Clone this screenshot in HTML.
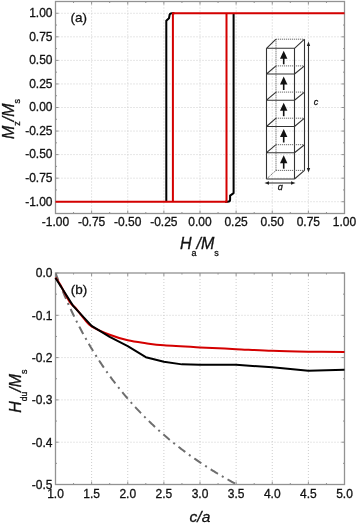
<!DOCTYPE html><html><head><meta charset="utf-8"><style>
html,body{margin:0;padding:0;background:#fff;}
body{width:357px;height:524px;overflow:hidden;}
svg{display:block;will-change:transform;}
text{font-family:"Liberation Sans", sans-serif;stroke:#111;stroke-width:0.3px;}
</style></head><body>
<svg width="357" height="524" viewBox="0 0 357 524">
<rect width="357" height="524" fill="#fff"/>
<path d="M91.62 1.5V213.5M127.75 1.5V213.5M163.88 1.5V213.5M200 1.5V213.5M236.12 1.5V213.5M272.25 1.5V213.5M308.38 1.5V213.5M55.5 201.72H344.5M55.5 178.17H344.5M55.5 154.61H344.5M55.5 131.06H344.5M55.5 107.5H344.5M55.5 83.94H344.5M55.5 60.39H344.5M55.5 36.83H344.5M55.5 13.28H344.5" stroke="#cdcdcd" stroke-width="1" stroke-dasharray="1 2" fill="none"/>
<path d="M55.5 213.5v-3M55.5 1.5v3M73.56 213.5v-1.5M73.56 1.5v1.5M91.62 213.5v-3M91.62 1.5v3M109.69 213.5v-1.5M109.69 1.5v1.5M127.75 213.5v-3M127.75 1.5v3M145.81 213.5v-1.5M145.81 1.5v1.5M163.88 213.5v-3M163.88 1.5v3M181.94 213.5v-1.5M181.94 1.5v1.5M200 213.5v-3M200 1.5v3M218.06 213.5v-1.5M218.06 1.5v1.5M236.12 213.5v-3M236.12 1.5v3M254.19 213.5v-1.5M254.19 1.5v1.5M272.25 213.5v-3M272.25 1.5v3M290.31 213.5v-1.5M290.31 1.5v1.5M308.38 213.5v-3M308.38 1.5v3M326.44 213.5v-1.5M326.44 1.5v1.5M344.5 213.5v-3M344.5 1.5v3M55.5 213.5h1.5M344.5 213.5h-1.5M55.5 201.72h3M344.5 201.72h-3M55.5 189.94h1.5M344.5 189.94h-1.5M55.5 178.17h3M344.5 178.17h-3M55.5 166.39h1.5M344.5 166.39h-1.5M55.5 154.61h3M344.5 154.61h-3M55.5 142.83h1.5M344.5 142.83h-1.5M55.5 131.06h3M344.5 131.06h-3M55.5 119.28h1.5M344.5 119.28h-1.5M55.5 107.5h3M344.5 107.5h-3M55.5 95.72h1.5M344.5 95.72h-1.5M55.5 83.94h3M344.5 83.94h-3M55.5 72.17h1.5M344.5 72.17h-1.5M55.5 60.39h3M344.5 60.39h-3M55.5 48.61h1.5M344.5 48.61h-1.5M55.5 36.83h3M344.5 36.83h-3M55.5 25.06h1.5M344.5 25.06h-1.5M55.5 13.28h3M344.5 13.28h-3M55.5 1.5h1.5M344.5 1.5h-1.5" stroke="#929292" stroke-width="1" fill="none"/>
<rect x="55.5" y="1.5" width="289" height="212" stroke="#929292" stroke-width="1.3" fill="none"/>
<text x="52.5" y="205.52" font-size="12" text-anchor="end" fill="#111">-1.00</text>
<text x="55.5" y="226" font-size="12" text-anchor="middle" fill="#111">-1.00</text>
<text x="52.5" y="181.97" font-size="12" text-anchor="end" fill="#111">-0.75</text>
<text x="91.62" y="226" font-size="12" text-anchor="middle" fill="#111">-0.75</text>
<text x="52.5" y="158.41" font-size="12" text-anchor="end" fill="#111">-0.50</text>
<text x="127.75" y="226" font-size="12" text-anchor="middle" fill="#111">-0.50</text>
<text x="52.5" y="134.86" font-size="12" text-anchor="end" fill="#111">-0.25</text>
<text x="163.88" y="226" font-size="12" text-anchor="middle" fill="#111">-0.25</text>
<text x="52.5" y="111.3" font-size="12" text-anchor="end" fill="#111">0.00</text>
<text x="200" y="226" font-size="12" text-anchor="middle" fill="#111">0.00</text>
<text x="52.5" y="87.74" font-size="12" text-anchor="end" fill="#111">0.25</text>
<text x="236.12" y="226" font-size="12" text-anchor="middle" fill="#111">0.25</text>
<text x="52.5" y="64.19" font-size="12" text-anchor="end" fill="#111">0.50</text>
<text x="272.25" y="226" font-size="12" text-anchor="middle" fill="#111">0.50</text>
<text x="52.5" y="40.63" font-size="12" text-anchor="end" fill="#111">0.75</text>
<text x="308.38" y="226" font-size="12" text-anchor="middle" fill="#111">0.75</text>
<text x="52.5" y="17.08" font-size="12" text-anchor="end" fill="#111">1.00</text>
<text x="344.5" y="226" font-size="12" text-anchor="middle" fill="#111">1.00</text>
<path d="M225 201.72 H227.6 Q230.1 201.72 230.1 199.4 V195.6 L233.6 193.1 V13.28" stroke="#000" stroke-width="2" fill="none" stroke-linejoin="round"/>
<path d="M174.5 13.28 H172 Q169.8 13.28 169.6 15 L169 18.2 L166.3 20.8 V201.72" stroke="#000" stroke-width="2" fill="none" stroke-linejoin="round"/>
<path d="M55.5 201.72 H226.5 V13.28" stroke="#d40000" stroke-width="2" fill="none"/>
<path d="M344.5 13.28 H172.9 V201.72" stroke="#d40000" stroke-width="2" fill="none"/>
<text x="70.6" y="21.7" font-size="13.5" fill="#111">(a)</text>
<path d="M266.5 48.3V179M294.5 48.3V179M304.5 39.2V170.4M266.5 48.3H294.5M294.5 48.3l10 -9.1M266.5 48.3l9.5 -9.1M266.5 74H294.5M294.5 74l10 -8.1M266.5 74l9.5 -8.1M266.5 100.2H294.5M294.5 100.2l10 -8.1M266.5 100.2l9.5 -8.1M266.5 126.5H294.5M294.5 126.5l10 -8.3M266.5 126.5l9.5 -8.3M266.5 152.7H294.5M294.5 152.7l10 -8M266.5 152.7l9.5 -8M266.5 179H294.5M294.5 179l10 -8.6" stroke="#333" stroke-width="1.1" fill="none"/>
<path d="M276 39.2V170.4M276 39.2H304M276 65.9H304M276 92.1H304M276 118.2H304M276 144.7H304M276 170.4H304M266.5 179l9.5 -8.6" stroke="#5a5a5a" stroke-width="0.9" stroke-dasharray="1.2 0.8" fill="none"/>
<path d="M283.7 56.8V64.3" stroke="#111" stroke-width="1.6"/>
<path d="M283.7 50.8L280 58.8L287.4 58.8Z" fill="#111"/>
<path d="M283.7 82.5V90" stroke="#111" stroke-width="1.6"/>
<path d="M283.7 76.5L280 84.5L287.4 84.5Z" fill="#111"/>
<path d="M283.7 108.7V116.2" stroke="#111" stroke-width="1.6"/>
<path d="M283.7 102.7L280 110.7L287.4 110.7Z" fill="#111"/>
<path d="M283.7 135V142.5" stroke="#111" stroke-width="1.6"/>
<path d="M283.7 129L280 137L287.4 137Z" fill="#111"/>
<path d="M283.7 161.2V168.7" stroke="#111" stroke-width="1.6"/>
<path d="M283.7 155.2L280 163.2L287.4 163.2Z" fill="#111"/>
<path d="M308.5 44V170" stroke="#333" stroke-width="1.1"/>
<path d="M308.5 41.5L306.8 46H310.2Z M308.5 172.5L306.8 168H310.2Z" fill="#222"/>
<text x="313.8" y="104.8" font-size="9" font-style="italic" fill="#222">c</text>
<path d="M267 183H293" stroke="#333" stroke-width="1.1"/>
<path d="M264.5 183L269 181.3V184.7Z M295.5 183L291 181.3V184.7Z" fill="#222"/>
<text x="277.8" y="189.8" font-size="9" font-style="italic" fill="#222">&#593;</text>
<g transform="translate(14.2,139) rotate(-90)"><text x="0" y="0" font-size="16" font-style="italic" fill="#111">M<tspan font-size="9" font-style="normal" dy="6">z</tspan><tspan dy="-6">/M</tspan><tspan font-size="9" font-style="normal" dy="6">s</tspan></text></g>
<text x="180" y="249" font-size="16" font-style="italic" fill="#111">H<tspan font-size="9" font-style="normal" dy="6.5">a</tspan><tspan dy="-6.5">/M</tspan><tspan font-size="9" font-style="normal" dy="6.5">s</tspan></text>
<path d="M91.62 273V484.5M127.75 273V484.5M163.88 273V484.5M200 273V484.5M236.12 273V484.5M272.25 273V484.5M308.38 273V484.5M55.5 315.3H344.5M55.5 357.6H344.5M55.5 399.9H344.5M55.5 442.2H344.5" stroke="#cdcdcd" stroke-width="1" stroke-dasharray="1 2" fill="none"/>
<path d="M55.5 484.5v-3M55.5 273v3M73.56 484.5v-1.5M73.56 273v1.5M91.62 484.5v-3M91.62 273v3M109.69 484.5v-1.5M109.69 273v1.5M127.75 484.5v-3M127.75 273v3M145.81 484.5v-1.5M145.81 273v1.5M163.88 484.5v-3M163.88 273v3M181.94 484.5v-1.5M181.94 273v1.5M200 484.5v-3M200 273v3M218.06 484.5v-1.5M218.06 273v1.5M236.12 484.5v-3M236.12 273v3M254.19 484.5v-1.5M254.19 273v1.5M272.25 484.5v-3M272.25 273v3M290.31 484.5v-1.5M290.31 273v1.5M308.38 484.5v-3M308.38 273v3M326.44 484.5v-1.5M326.44 273v1.5M344.5 484.5v-3M344.5 273v3M55.5 273h3M344.5 273h-3M55.5 294.15h1.5M344.5 294.15h-1.5M55.5 315.3h3M344.5 315.3h-3M55.5 336.45h1.5M344.5 336.45h-1.5M55.5 357.6h3M344.5 357.6h-3M55.5 378.75h1.5M344.5 378.75h-1.5M55.5 399.9h3M344.5 399.9h-3M55.5 421.05h1.5M344.5 421.05h-1.5M55.5 442.2h3M344.5 442.2h-3M55.5 463.35h1.5M344.5 463.35h-1.5M55.5 484.5h3M344.5 484.5h-3" stroke="#929292" stroke-width="1" fill="none"/>
<rect x="55.5" y="273" width="289" height="211.5" stroke="#929292" stroke-width="1.3" fill="none"/>
<text x="52.5" y="277.3" font-size="12" text-anchor="end" fill="#111">0.0</text>
<text x="52.5" y="319.6" font-size="12" text-anchor="end" fill="#111">-0.1</text>
<text x="52.5" y="361.9" font-size="12" text-anchor="end" fill="#111">-0.2</text>
<text x="52.5" y="404.2" font-size="12" text-anchor="end" fill="#111">-0.3</text>
<text x="52.5" y="446.5" font-size="12" text-anchor="end" fill="#111">-0.4</text>
<text x="52.5" y="488.8" font-size="12" text-anchor="end" fill="#111">-0.5</text>
<text x="55.5" y="497.6" font-size="12" text-anchor="middle" fill="#111">1.0</text>
<text x="91.62" y="497.6" font-size="12" text-anchor="middle" fill="#111">1.5</text>
<text x="127.75" y="497.6" font-size="12" text-anchor="middle" fill="#111">2.0</text>
<text x="163.88" y="497.6" font-size="12" text-anchor="middle" fill="#111">2.5</text>
<text x="200" y="497.6" font-size="12" text-anchor="middle" fill="#111">3.0</text>
<text x="236.12" y="497.6" font-size="12" text-anchor="middle" fill="#111">3.5</text>
<text x="272.25" y="497.6" font-size="12" text-anchor="middle" fill="#111">4.0</text>
<text x="308.38" y="497.6" font-size="12" text-anchor="middle" fill="#111">4.5</text>
<text x="344.5" y="497.6" font-size="12" text-anchor="middle" fill="#111">5.0</text>
<clipPath id="cb"><rect x="55.5" y="273" width="289" height="211.5"/></clipPath>
<polyline points="55.5,273 56.22,274.91 56.95,276.8 57.67,278.67 58.39,280.52 59.11,282.35 59.84,284.16 60.56,285.95 61.28,287.72 62,289.47 62.73,291.2 63.45,292.92 64.17,294.62 64.89,296.3 65.62,297.97 66.34,299.61 67.06,301.25 67.78,302.86 68.51,304.46 69.23,306.04 69.95,307.61 70.67,309.17 71.4,310.71 72.12,312.23 72.84,313.74 73.56,315.23 74.29,316.72 75.01,318.18 75.73,319.64 76.45,321.08 77.18,322.51 77.9,323.92 78.62,325.33 79.34,326.72 80.07,328.09 80.79,329.46 81.51,330.81 82.23,332.16 82.96,333.49 83.68,334.81 84.4,336.11 85.12,337.41 85.85,338.7 86.57,339.97 87.29,341.24 88.01,342.49 88.74,343.73 89.46,344.97 90.18,346.19 90.9,347.4 91.63,348.61 92.35,349.8 93.07,350.99 93.79,352.16 94.52,353.33 95.24,354.49 95.96,355.63 96.68,356.77 97.41,357.9 98.13,359.02 98.85,360.14 99.57,361.24 100.3,362.34 101.02,363.42 101.74,364.5 102.46,365.57 103.19,366.64 103.91,367.69 104.63,368.74 105.35,369.78 106.08,370.81 106.8,371.84 107.52,372.86 108.24,373.87 108.97,374.87 109.69,375.87 110.41,376.85 111.13,377.84 111.86,378.81 112.58,379.78 113.3,380.74 114.02,381.7 114.75,382.64 115.47,383.59 116.19,384.52 116.91,385.45 117.64,386.37 118.36,387.29 119.08,388.2 119.8,389.1 120.53,390 121.25,390.89 121.97,391.78 122.69,392.66 123.42,393.53 124.14,394.4 124.86,395.27 125.58,396.12 126.31,396.98 127.03,397.82 127.75,398.66 128.47,399.5 129.2,400.33 129.92,401.15 130.64,401.97 131.36,402.79 132.08,403.6 132.81,404.4 133.53,405.2 134.25,406 134.97,406.79 135.7,407.57 136.42,408.35 137.14,409.13 137.86,409.9 138.59,410.66 139.31,411.43 140.03,412.18 140.75,412.93 141.48,413.68 142.2,414.43 142.92,415.16 143.64,415.9 144.37,416.63 145.09,417.35 145.81,418.08 146.53,418.79 147.26,419.51 147.98,420.22 148.7,420.92 149.42,421.62 150.15,422.32 150.87,423.01 151.59,423.7 152.31,424.39 153.04,425.07 153.76,425.74 154.48,426.42 155.2,427.09 155.93,427.75 156.65,428.42 157.37,429.07 158.09,429.73 158.82,430.38 159.54,431.03 160.26,431.67 160.98,432.31 161.71,432.95 162.43,433.59 163.15,434.22 163.87,434.84 164.6,435.47 165.32,436.09 166.04,436.7 166.76,437.32 167.49,437.93 168.21,438.53 168.93,439.14 169.65,439.74 170.38,440.34 171.1,440.93 171.82,441.52 172.54,442.11 173.27,442.7 173.99,443.28 174.71,443.86 175.43,444.43 176.16,445.01 176.88,445.58 177.6,446.14 178.32,446.71 179.05,447.27 179.77,447.83 180.49,448.38 181.21,448.94 181.94,449.49 182.66,450.03 183.38,450.58 184.1,451.12 184.83,451.66 185.55,452.2 186.27,452.73 186.99,453.26 187.72,453.79 188.44,454.32 189.16,454.84 189.88,455.36 190.61,455.88 191.33,456.4 192.05,456.91 192.77,457.42 193.5,457.93 194.22,458.44 194.94,458.94 195.66,459.44 196.39,459.94 197.11,460.44 197.83,460.93 198.55,461.42 199.28,461.91 200,462.4 200.72,462.88 201.44,463.36 202.17,463.84 202.89,464.32 203.61,464.8 204.33,465.27 205.06,465.74 205.78,466.21 206.5,466.68 207.22,467.14 207.95,467.61 208.67,468.07 209.39,468.53 210.11,468.98 210.84,469.44 211.56,469.89 212.28,470.34 213,470.79 213.73,471.23 214.45,471.68 215.17,472.12 215.89,472.56 216.62,473 217.34,473.43 218.06,473.87 218.78,474.3 219.51,474.73 220.23,475.16 220.95,475.58 221.67,476.01 222.4,476.43 223.12,476.85 223.84,477.27 224.56,477.69 225.29,478.1 226.01,478.52 226.73,478.93 227.45,479.34 228.18,479.75 228.9,480.15 229.62,480.56 230.34,480.96 231.07,481.36 231.79,481.76 232.51,482.16 233.23,482.55 233.96,482.95 234.68,483.34 235.4,483.73 236.12,484.12 236.85,484.51 237.57,484.9 238.29,485.28 239.01,485.66 239.74,486.04 240.46,486.42 241.18,486.8 241.9,487.18 242.63,487.55 243.35,487.93 244.07,488.3 244.79,488.67 245.52,489.04 246.24,489.4 246.96,489.77 247.68,490.13 248.41,490.5 249.13,490.86 249.85,491.22 250.57,491.57" stroke="#6e6e6e" stroke-width="2" stroke-dasharray="8.5 4.57 2 4.57" stroke-dashoffset="0.24" fill="none" clip-path="url(#cb)"/>
<path d="M55.5 277.65C56.22 278.71 57.43 279.91 59.84 284C62.24 288.09 67.3 298.17 69.95 302.19C72.6 306.21 73.32 305.29 75.73 308.11C78.14 310.93 81.75 316.08 84.4 319.11C87.05 322.14 87.41 323.69 91.62 326.3C95.84 328.91 103.67 332.43 109.69 334.76C115.71 337.08 121.73 338.85 127.75 340.26C133.77 341.67 139.79 342.37 145.81 343.22C151.83 344.06 154.84 344.63 163.88 345.33C172.91 346.04 187.96 346.81 200 347.45C212.04 348.08 224.08 348.58 236.12 349.14C248.17 349.7 260.21 350.41 272.25 350.83C284.29 351.25 296.33 351.47 308.38 351.68C320.42 351.89 338.48 352.03 344.5 352.1" stroke="#d40000" stroke-width="2" fill="none"/>
<polyline points="55.5,278.08 73.56,306.42 91.62,325.88 109.69,336.87 127.75,346.18 145.81,357.18 163.88,361.83 181.94,364.37 200,364.79 236.12,364.79 272.25,367.33 308.38,370.71 344.5,369.87" stroke="#000" stroke-width="2" fill="none" stroke-linejoin="round"/>
<text x="70.8" y="294.0" font-size="13.5" fill="#111">(b)</text>
<g transform="translate(21.2,412.8) rotate(-90)"><text x="0" y="0" font-size="16" font-style="italic" fill="#111">H<tspan font-size="8.5" font-style="normal" dy="6">du</tspan><tspan dy="-6">/M</tspan><tspan font-size="9" font-style="normal" dy="6">s</tspan></text></g>
<text x="189.6" y="521.6" font-size="15.5" font-style="italic" fill="#111">c/a</text>
</svg></body></html>
